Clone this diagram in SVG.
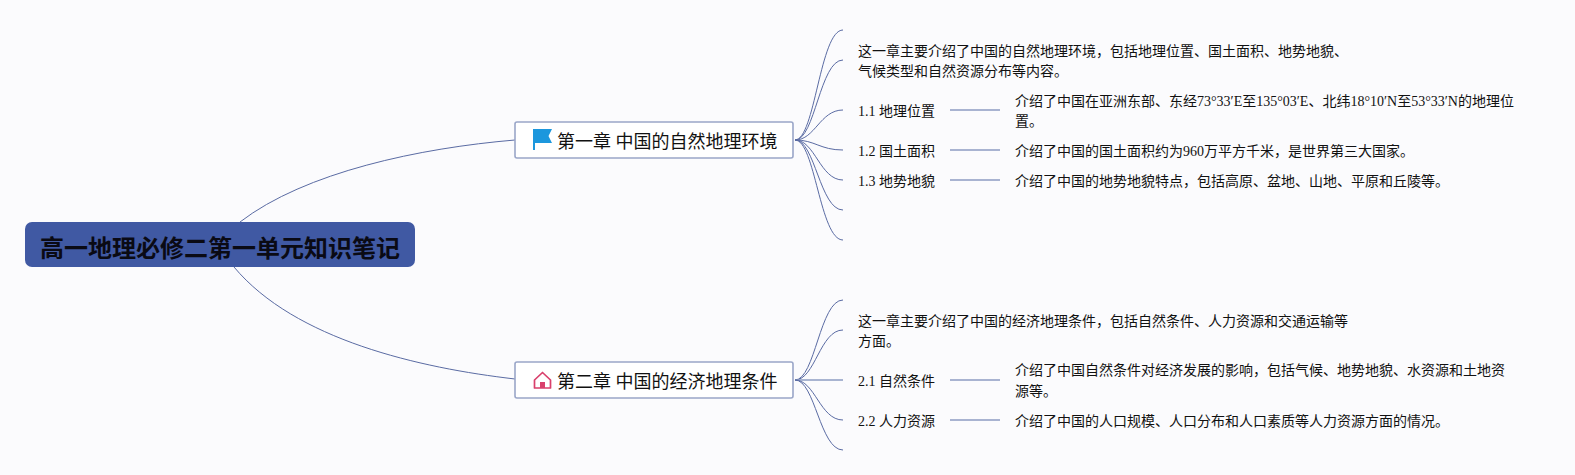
<svg xmlns="http://www.w3.org/2000/svg" width="1575" height="475" viewBox="0 0 1575 475">
<style>
text{font-family:"Liberation Serif","Noto Sans CJK SC",serif;fill:#111}
.root{font-family:"Liberation Sans","Noto Sans CJK SC",sans-serif;font-size:24px;font-weight:700;fill:#0a0a14;text-anchor:middle}
.b{font-size:18px}
.t{font-size:14px}
.c{fill:none;stroke:#5a6ba3;stroke-width:1}
.s{fill:none;stroke:#8d9cc2;stroke-width:1.3}
.box{fill:#fff;stroke:#9aa6c8;stroke-width:1.6}
</style>
<rect width="1575" height="475" fill="#fbfbfd"/>
<g id="connectors">
<path class="c" d="M240 222C305 172 420 148 515 140"/>
<path class="c" d="M234 267C295 340 420 368 515 379"/>
<path class="c" d="M795 140C815 140 820 30 843 30"/>
<path class="c" d="M795 140C815 140 820 60 843 60"/>
<path class="c" d="M795 140C815 140 820 110 843 110"/>
<path class="c" d="M795 140C815 140 820 150 843 150"/>
<path class="c" d="M795 140C815 140 820 180 843 180"/>
<path class="c" d="M795 140C815 140 820 210 843 210"/>
<path class="c" d="M795 140C815 140 820 240 843 240"/>
<path class="c" d="M795 380C815 380 820 300 843 300"/>
<path class="c" d="M795 380C815 380 820 330 843 330"/>
<path class="s" d="M795 380H843"/>
<path class="c" d="M795 380C815 380 820 420 843 420"/>
<path class="c" d="M795 380C815 380 820 450 843 450"/>
<path class="s" d="M950 110H1000M950 150H1000M950 180H1000M950 380H1000M950 420H1000"/>
</g>
<g id="root"><rect x="25" y="222" width="390" height="45" rx="7" fill="#4059a3"/><text class="root" x="220" y="257">高一地理必修二第一单元知识笔记</text></g>
<g id="branch1"><rect class="box" x="515" y="122" width="278" height="36" rx="2"/>
<path d="M533 129H552L548.500 136L552 143H535V150H533Z" fill="#1c97dd"/>
<text class="b" x="557" y="148">第一章 中国的自然地理环境</text></g>
<g id="branch2"><rect class="box" x="515" y="362" width="278" height="36" rx="2"/>
<path d="M534.500 380L542.500 372.500L550.500 380V388H534.500Z" fill="none" stroke="#d9406c" stroke-width="1.700" stroke-linejoin="round"/><path d="M540 388V382H545V388Z" fill="#d9406c"/>
<text class="b" x="557" y="388">第二章 中国的经济地理条件</text></g>
<g id="n1-0"><text class="t" x="858" y="56">这一章主要介绍了中国的自然地理环境，包括地理位置、国土面积、地势地貌、</text><text class="t" x="858" y="76">气候类型和自然资源分布等内容。</text></g>
<g id="n1-1"><text class="t" x="858" y="116">1.1 地理位置</text></g>
<g id="n1-1-d"><text class="t" x="1015" y="106">介绍了中国在亚洲东部、东经73°33′E至135°03′E、北纬18°10′N至53°33′N的地理位</text><text class="t" x="1015" y="126">置。</text></g>
<g id="n1-2"><text class="t" x="858" y="156">1.2 国土面积</text></g>
<g id="n1-2-d"><text class="t" x="1015" y="156">介绍了中国的国土面积约为960万平方千米，是世界第三大国家。</text></g>
<g id="n1-3"><text class="t" x="858" y="186">1.3 地势地貌</text></g>
<g id="n1-3-d"><text class="t" x="1015" y="186">介绍了中国的地势地貌特点，包括高原、盆地、山地、平原和丘陵等。</text></g>
<g id="n2-0"><text class="t" x="858" y="326">这一章主要介绍了中国的经济地理条件，包括自然条件、人力资源和交通运输等</text><text class="t" x="858" y="346">方面。</text></g>
<g id="n2-1"><text class="t" x="858" y="386">2.1 自然条件</text></g>
<g id="n2-1-d"><text class="t" x="1015" y="375">介绍了中国自然条件对经济发展的影响，包括气候、地势地貌、水资源和土地资</text><text class="t" x="1015" y="396">源等。</text></g>
<g id="n2-2"><text class="t" x="858" y="426">2.2 人力资源</text></g>
<g id="n2-2-d"><text class="t" x="1015" y="426">介绍了中国的人口规模、人口分布和人口素质等人力资源方面的情况。</text></g>
</svg>
